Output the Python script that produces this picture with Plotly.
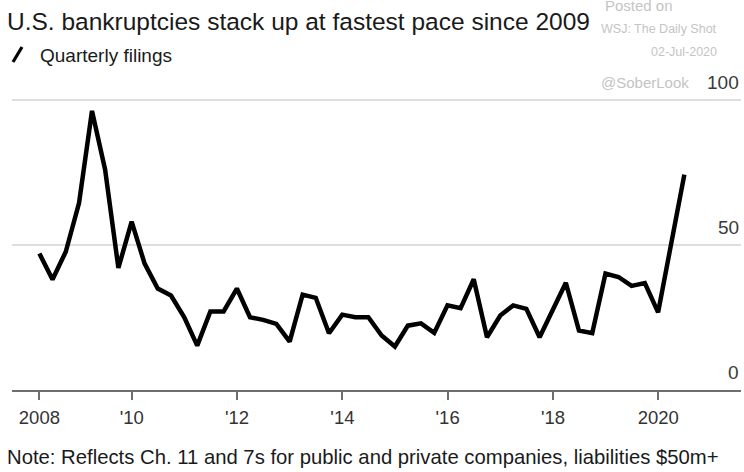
import plotly.graph_objects as go

# Quarterly filings, 2008 Q1 .. 2020 Q2 (plotted at quarter end)
quarter_years = [y for y in range(2008, 2021) for _ in range(4)][:50]
quarter_ends = ["03-31", "06-30", "09-30", "12-31"]
dates = [f"{y}-{quarter_ends[i % 4]}" for i, y in enumerate(quarter_years)]

filings = [47.1, 38.1, 47.7, 64.5, 96.3, 76.0, 42.1, 58.1, 43.6, 35.0,
           32.6, 25.1, 15.3, 27.1, 27.1, 35.0, 25.1, 24.2, 22.8, 16.7,
           32.9, 31.8, 19.6, 26.0, 25.1, 25.1, 18.8, 15.0, 22.2, 23.0,
           19.7, 29.2, 28.2, 38.2, 18.2, 25.7, 29.2, 28.0, 18.2, 28.0,
           37.0, 20.5, 19.6, 40.2, 39.0, 35.9, 36.9, 26.8, 51.0, 74.3]

x_tick_vals = ["2008-03-31", "2010-01-01", "2012-01-01", "2014-01-01",
               "2016-01-01", "2018-01-01", "2020-01-01"]
x_tick_text = ["2008", "'10", "'12", "'14", "'16", "'18", "2020"]
y_tick_vals = [0, 50, 100]
y_tick_text = ["0", "50", "100"]

title = "U.S. bankruptcies stack up at fastest pace since 2009"
legend_label = "Quarterly filings"
note = "Note: Reflects Ch. 11 and 7s for public and private companies, liabilities $50m+"
watermark = ["Posted on", "WSJ: The Daily Shot", "02-Jul-2020", "@SoberLook"]

FONT = "Liberation Sans, Arial, sans-serif"

# plot-area geometry (pixels) used to place decorations in paper coords
L, R, T, B = 12, 741, 99, 390
W, H = R - L, B - T


def px(x):
    return (x - L) / W


def py(y):
    return (B - y) / H


fig = go.Figure()
fig.add_trace(go.Scatter(
    x=dates, y=filings, mode="lines",
    line=dict(color="#000000", width=4.5),
    showlegend=False, name=legend_label,
))

annotations = [
    dict(text=title, x=px(5), y=py(21), xanchor="left", yanchor="middle",
         font=dict(size=24.5, color="#1a1a1a")),
    dict(text=legend_label, x=px(38), y=py(55), xanchor="left", yanchor="middle",
         font=dict(size=19, color="#1a1a1a")),
    dict(text=watermark[0], x=px(603), y=py(5), xanchor="left", yanchor="middle",
         font=dict(size=15, color="#c4c4c4")),
    dict(text=watermark[1], x=px(719), y=py(29), xanchor="right", yanchor="middle",
         font=dict(size=12.5, color="#c4c4c4")),
    dict(text=watermark[2], x=px(719), y=py(52), xanchor="right", yanchor="middle",
         font=dict(size=12.5, color="#c4c4c4")),
    dict(text=watermark[3], x=px(599), y=py(82), xanchor="left", yanchor="middle",
         font=dict(size=15, color="#c4c4c4")),
    dict(text=note, x=px(5), y=py(457), xanchor="left", yanchor="middle",
         font=dict(size=20.3, color="#1a1a1a")),
]
for a in annotations:
    a.update(xref="paper", yref="paper", showarrow=False)
    a["font"]["family"] = FONT

for v, t in zip(y_tick_vals, y_tick_text):
    annotations.append(dict(
        text=t, x=1, y=v, xref="paper", yref="y", xanchor="right", yanchor="bottom",
        yshift=5, showarrow=False,
        font=dict(size=19, color="#3a3a3a", family=FONT)))

fig.update_layout(
    width=744, height=472,
    margin=dict(l=L, r=744 - R, t=T, b=472 - B),
    paper_bgcolor="#ffffff", plot_bgcolor="#ffffff",
    font=dict(family=FONT, color="#333333"),
    xaxis=dict(
        type="date",
        range=["2007-09-23", "2021-07-28"],
        tickmode="array", tickvals=x_tick_vals, ticktext=x_tick_text,
        showgrid=False, zeroline=False,
        showline=True, linecolor="#6e6e6e", linewidth=2,
        ticks="outside", ticklen=8, tickwidth=1.5, tickcolor="#6e6e6e",
        tickfont=dict(size=18.5, color="#333333"),
        ticklabelstandoff=2,
    ),
    yaxis=dict(
        range=[0, 100.4],
        tickmode="array", tickvals=y_tick_vals, showticklabels=False,
        showgrid=True, gridcolor="#dedede", gridwidth=1.5,
        zeroline=False, showline=False, ticks="",
    ),
    annotations=annotations,
    shapes=[dict(type="line", xref="paper", yref="paper",
                 x0=px(13), y0=py(62), x1=px(22), y1=py(47),
                 line=dict(color="#000000", width=3.2))],
)

fig.write_html("out.html")
